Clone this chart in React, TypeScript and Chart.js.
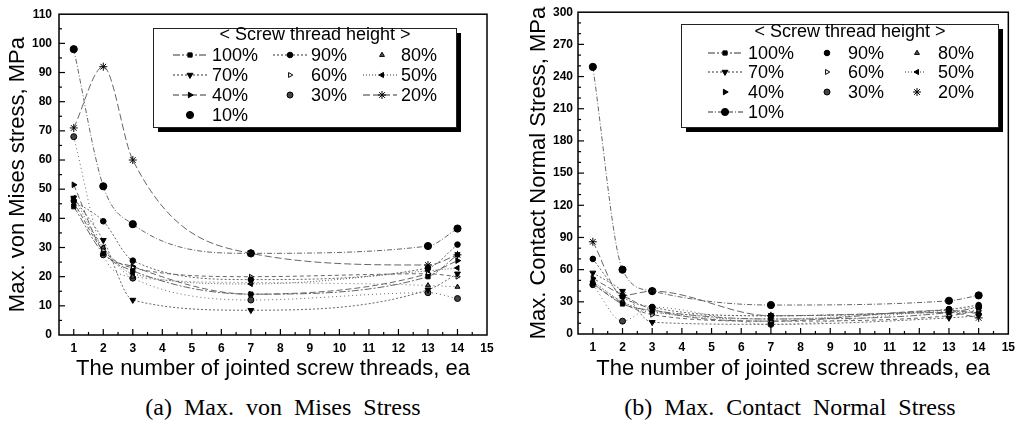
import React, { useEffect, useRef } from "react";
import { Chart, registerables } from "chart.js";
import { drawPoint } from "chart.js/helpers";

Chart.register(...registerables);

// ---------- data ----------
const xValues = [1, 2, 3, 7, 13, 14];
const xTickLabels = [1, 2, 3, 4, 5, 6, 7, 8, 9, 10, 11, 12, 13, 14, 15];
const seriesLabels = ["100%", "90%", "80%", "70%", "60%", "50%", "40%", "30%", "20%", "10%"];

// (a) Max. von Mises stress, MPa
const vm100 = [44, 28, 22, 14, 20, 27.5];
const vm90 = [46, 39, 25.5, 19, 23, 31];
const vm80 = [45, 30, 20, 18, 17, 16.5];
const vm70 = [47, 32.5, 12, 8.5, 15.5, 21];
const vm60 = [45.5, 29, 23, 20, 21, 20];
const vm50 = [47, 30, 21, 17.5, 22, 23];
const vm40 = [51.5, 28.5, 23.5, 14, 21, 25.5];
const vm30 = [68, 27.5, 19.5, 12, 14.5, 12.5];
const vm20 = [71, 92, 60, 28, 24, 27.5];
const vm10 = [98, 51, 38, 28, 30.5, 36.5];

// (b) Max. contact normal stress, MPa
const cn100 = [47, 28, 22, 14, 20, 25];
const cn90 = [70, 35, 25, 17, 23, 27];
const cn80 = [48, 30, 20, 17, 21, 22];
const cn70 = [57, 40, 11, 9, 15, 17];
const cn60 = [46, 29, 18, 12, 17, 22];
const cn50 = [49, 30, 21, 14, 20, 20];
const cn40 = [52, 36, 23, 12, 22, 19];
const cn30 = [46, 12, 25, 9, 23, 25];
const cn20 = [86, 36, 40, 17, 20, 15];
const cn10 = [249, 60, 40, 27, 31, 36];

const vmSeries = [vm100, vm90, vm80, vm70, vm60, vm50, vm40, vm30, vm20, vm10];
const cnSeries = [cn100, cn90, cn80, cn70, cn60, cn50, cn40, cn30, cn20, cn10];

// ---------- styles ----------
const markerStyles: any[] = [
  { pointStyle: "rect", radius: 3, rotation: 0, fill: "#000" },
  { pointStyle: "circle", radius: 2.8, rotation: 0, fill: "#000" },
  { pointStyle: "triangle", radius: 2.8, rotation: 0, fill: "#555" },
  { pointStyle: "triangle", radius: 3.4, rotation: 180, fill: "#000" },
  { pointStyle: "triangle", radius: 2.8, rotation: 90, fill: "#fff" },
  { pointStyle: "triangle", radius: 3, rotation: 270, fill: "#000" },
  { pointStyle: "triangle", radius: 3.2, rotation: 90, fill: "#000" },
  { pointStyle: "circle", radius: 3, rotation: 0, fill: "#444" },
  { pointStyle: "star", radius: 4, rotation: 0, fill: "#000" },
  { pointStyle: "circle", radius: 3.6, rotation: 0, fill: "#000" },
];
const lineDashes = [
  [7, 2, 2, 2],
  [2, 2],
  [1, 3],
  [2, 2],
  [4, 3],
  [1, 2],
  [6, 3],
  [1, 3],
  [7, 3],
  [5, 2, 1, 2],
];
const vmLegendLines = [true, true, false, true, false, true, true, false, true, false];
const cnLegendLines = [true, false, false, true, false, true, false, false, false, true];

const LINE_COLOR = "#666";

function buildDatasets(series: number[][], legendLines: boolean[]) {
  return series.map((vals, i) => ({
    label: seriesLabels[i],
    data: vals.map((v, j) => ({ x: xValues[j], y: v })),
    borderColor: LINE_COLOR,
    borderWidth: 1,
    borderDash: lineDashes[i],
    cubicInterpolationMode: "monotone",
    pointStyle: markerStyles[i].pointStyle,
    pointRadius: markerStyles[i].radius,
    pointRotation: markerStyles[i].rotation,
    pointBackgroundColor: markerStyles[i].fill,
    pointBorderColor: "#000",
    pointBorderWidth: 1,
    legendLine: legendLines[i],
    fill: false,
  }));
}

// ---------- plugins ----------
const frameTicksPlugin = {
  id: "frameTicks",
  afterDraw(chart: any, _args: any, opts: any) {
    const { ctx, chartArea: a, scales } = chart;
    const xs = scales.x;
    const ys = scales.y;
    ctx.save();
    ctx.strokeStyle = "#000";
    ctx.lineWidth = 1.5;
    ctx.setLineDash([]);
    ctx.strokeRect(a.left, a.top, a.right - a.left, a.bottom - a.top);
    ctx.lineWidth = 1.2;
    for (let v = opts.xMin; v <= opts.xMax + 1e-6; v += opts.xMinor) {
      const px = xs.getPixelForValue(v);
      if (px <= a.left + 1 || px >= a.right - 1) continue;
      const major = Math.abs(v - Math.round(v)) < 1e-6;
      const len = major ? 6 : 3;
      ctx.beginPath();
      ctx.moveTo(px, a.bottom);
      ctx.lineTo(px, a.bottom - len);
      ctx.stroke();
    }
    for (let v = opts.yMin; v <= opts.yMax + 1e-6; v += opts.yMinor) {
      const py = ys.getPixelForValue(v);
      if (py <= a.top + 1 || py >= a.bottom - 1) continue;
      const major = Math.abs(v / opts.yMajor - Math.round(v / opts.yMajor)) < 1e-6;
      const len = major ? 6 : 3;
      ctx.beginPath();
      ctx.moveTo(a.left, py);
      ctx.lineTo(a.left + len, py);
      ctx.stroke();
    }
    ctx.restore();
  },
};

const boxLegendPlugin = {
  id: "boxLegend",
  afterDraw(chart: any, _args: any, o: any) {
    const { ctx } = chart;
    ctx.save();
    ctx.fillStyle = "#000";
    ctx.fillRect(o.x + o.shadow, o.y + o.h, o.w, o.shadow);
    ctx.fillRect(o.x + o.w, o.y + o.shadow, o.shadow, o.h);
    ctx.fillStyle = "#fff";
    ctx.fillRect(o.x, o.y, o.w, o.h);
    ctx.strokeStyle = "#222";
    ctx.lineWidth = 1;
    ctx.setLineDash([]);
    ctx.strokeRect(o.x + 0.5, o.y + 0.5, o.w, o.h);
    ctx.fillStyle = "#000";
    ctx.font = `${o.fontSize}px "Liberation Sans", Arial, sans-serif`;
    ctx.textAlign = "center";
    ctx.textBaseline = "middle";
    ctx.fillText(o.title, o.titleX, o.titleY);
    ctx.textAlign = "left";
    chart.data.datasets.forEach((ds: any, i: number) => {
      const row = Math.floor(i / 3);
      const col = o.cols[i % 3];
      const y = o.rows[row];
      if (ds.legendLine) {
        ctx.strokeStyle = "#333";
        ctx.lineWidth = 1;
        ctx.setLineDash(ds.borderDash || []);
        ctx.beginPath();
        ctx.moveTo(col.l1, y);
        ctx.lineTo(col.l2, y);
        ctx.stroke();
        ctx.setLineDash([]);
      }
      ctx.fillStyle = ds.pointBackgroundColor;
      ctx.strokeStyle = "#000";
      ctx.lineWidth = 1;
      drawPoint(
        ctx,
        { pointStyle: ds.pointStyle, radius: ds.pointRadius, rotation: ds.pointRotation, borderWidth: 1 },
        col.m,
        y
      );
      ctx.fillStyle = "#000";
      ctx.fillText(ds.label, col.t, y + 1);
    });
    ctx.restore();
  },
};

const CANVAS_H = 384;
const SANS = '"Liberation Sans", Arial, sans-serif';

function makeConfig(p: any) {
  return {
    type: "line",
    data: { datasets: buildDatasets(p.series, p.legendLines) },
    plugins: [frameTicksPlugin, boxLegendPlugin],
    options: {
      responsive: false,
      animation: false,
      devicePixelRatio: 1,
      layout: { padding: { top: p.top, right: p.right, left: 0, bottom: 0 } },
      scales: {
        x: {
          type: "linear",
          min: 0.5,
          max: 15,
          afterBuildTicks: (s: any) => {
            s.ticks = xTickLabels.map((v) => ({ value: v }));
          },
          afterFit: (s: any) => {
            s.height = CANVAS_H - p.bottom;
          },
          grid: { display: false, drawTicks: false },
          border: { display: false },
          ticks: {
            padding: 6,
            color: "#000",
            font: { family: SANS, size: 12, weight: "bold" },
            maxRotation: 0,
            autoSkip: false,
          },
          title: {
            display: true,
            text: "The number of jointed screw threads, ea",
            color: "#000",
            font: { family: SANS, size: 22 },
            padding: { top: 0, bottom: 2 },
          },
        },
        y: {
          type: "linear",
          min: 0,
          max: p.yMax,
          afterFit: (s: any) => {
            s.width = p.yWidth;
          },
          grid: { display: false, drawTicks: false },
          border: { display: false },
          ticks: {
            stepSize: p.yStep,
            padding: p.yPad,
            color: "#000",
            font: { family: SANS, size: 12, weight: "bold" },
          },
          title: {
            display: true,
            text: p.yTitle,
            color: "#000",
            font: { family: SANS, size: 22 },
            padding: { top: p.yTitlePad, bottom: 0 },
          },
        },
      },
      plugins: {
        legend: { display: false },
        tooltip: { enabled: false },
        frameTicks: { xMin: 0.5, xMax: 15, xMinor: 0.5, yMin: 0, yMax: p.yMax, yMinor: p.yMinor, yMajor: p.yStep },
        boxLegend: p.legend,
      },
    },
  } as any;
}

const leftParams = {
  series: vmSeries,
  legendLines: vmLegendLines,
  top: 14,
  right: 23,
  bottom: 335,
  yWidth: 59,
  yMax: 110,
  yStep: 10,
  yMinor: 5,
  yPad: 7,
  yTitlePad: 5,
  yTitle: "Max. von Mises stress, MPa",
  legend: {
    x: 153,
    y: 28,
    w: 303,
    h: 99,
    shadow: 5,
    fontSize: 18,
    title: "< Screw thread height >",
    titleX: 315,
    titleY: 35,
    rows: [55, 75, 95, 115],
    cols: [
      { l1: 173, l2: 208, m: 190, t: 212 },
      { l1: 273, l2: 307, m: 290, t: 311 },
      { l1: 363, l2: 397, m: 382, t: 401 },
    ],
  },
};

const rightParams = {
  series: cnSeries,
  legendLines: cnLegendLines,
  top: 9,
  right: 11,
  bottom: 334,
  yWidth: 68,
  yMax: 300,
  yStep: 30,
  yMinor: 10,
  yPad: 5,
  yTitlePad: 16,
  yTitle: "Max. Contact Normal Stress, MPa",
  legend: {
    x: 171,
    y: 24,
    w: 317,
    h: 103,
    shadow: 5,
    fontSize: 18,
    title: "< Screw thread height >",
    titleX: 340,
    titleY: 32,
    rows: [53, 72, 92, 112],
    cols: [
      { l1: 198, l2: 233, m: 215, t: 238 },
      { l1: 300, l2: 333, m: 317, t: 338 },
      { l1: 395, l2: 415, m: 407, t: 428 },
    ],
  },
};

function StressChart({ params, left, width }: { params: any; left: number; width: number }) {
  const ref = useRef<HTMLCanvasElement>(null);
  useEffect(() => {
    if (!ref.current) return;
    const chart = new Chart(ref.current, makeConfig(params));
    return () => chart.destroy();
  }, [params]);
  return (
    <canvas
      ref={ref}
      width={width}
      height={CANVAS_H}
      style={{ position: "absolute", left, top: 0, width, height: CANVAS_H }}
    />
  );
}

const captionStyle: React.CSSProperties = {
  position: "absolute",
  top: 393,
  fontFamily: '"Liberation Serif", "DejaVu Serif", serif',
  fontSize: 24,
  lineHeight: "28px",
  whiteSpace: "pre",
  color: "#000",
  transform: "translateX(-50%)",
};

export default function App() {
  useEffect(() => {
    document.body.style.margin = "0";
  }, []);
  return (
    <div style={{ position: "absolute", left: 0, top: 0, width: 1021, height: 424, background: "#fff", overflow: "hidden" }}>
      <StressChart params={leftParams} left={0} width={510} />
      <StressChart params={rightParams} left={510} width={511} />
      <div style={{ ...captionStyle, left: 283 }}>{"(a)  Max.  von  Mises  Stress"}</div>
      <div style={{ ...captionStyle, left: 790 }}>{"(b)  Max.  Contact  Normal  Stress"}</div>
    </div>
  );
}
